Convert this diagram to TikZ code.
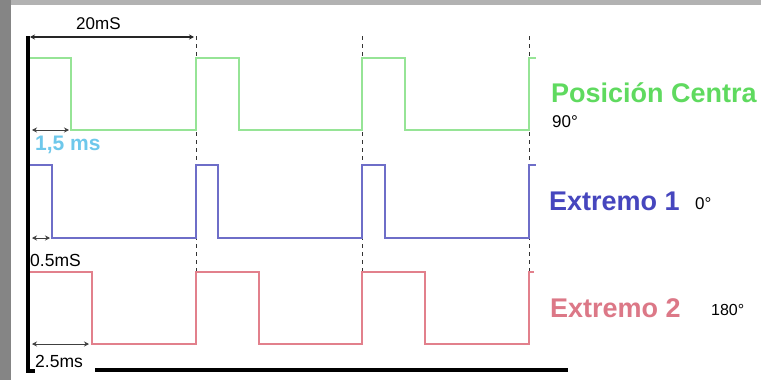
\documentclass[tikz,border=0pt]{standalone}
\usepackage{fontspec}
\setmainfont{Liberation Sans}
\usetikzlibrary{arrows.meta}

\definecolor{pgreen}{RGB}{150,228,150}
\definecolor{pblue}{RGB}{110,110,200}
\definecolor{pred}{RGB}{226,128,140}
\definecolor{tgreen}{RGB}{95,218,95}
\definecolor{tblue}{RGB}{70,70,190}
\definecolor{tred}{RGB}{220,120,135}
\definecolor{tcyan}{RGB}{110,200,235}

\begin{document}
\begin{tikzpicture}[x=1pt,y=-1pt,
  sig/.style={line width=1.8pt},
  guide/.style={black!80,line width=1pt,dash pattern=on 4pt off 4pt},
  dim/.style={black!75,line width=1pt,{Stealth[length=5pt,width=5pt]}-{Stealth[length=5pt,width=5pt]}},
  txt/.style={inner sep=0pt,anchor=base west}]
\useasboundingbox (0,0) rectangle (761,380);
\fill[white] (0,0) rectangle (761,380);
\fill[black!30] (0,0) rectangle (761,5);
\fill[black!48] (0,0) rectangle (11,380);

% guide lines, one per period
\draw[guide] (196,36) -- (196,272);
\draw[guide] (362,36) -- (362,272);
\draw[guide] (529,36) -- (529,272);

% pulses
\draw[sig,pgreen] (29,58) -- (71,58) -- (71,130) -- (196,130) -- (196,58) -- (239,58) -- (239,130)
  -- (362,130) -- (362,58) -- (405,58) -- (405,130) -- (529,130) -- (529,58) -- (536,58);
\draw[sig,pblue] (29,165) -- (52,165) -- (52,238) -- (196,238) -- (196,165) -- (218,165) -- (218,238)
  -- (362,238) -- (362,165) -- (385,165) -- (385,238) -- (529,238) -- (529,165) -- (536,165);
\draw[sig,pred] (29,272) -- (92,272) -- (92,344) -- (196,344) -- (196,272) -- (259,272) -- (259,344)
  -- (362,344) -- (362,272) -- (425,272) -- (425,344) -- (529,344) -- (529,272) -- (534,272);

% axes
\draw[line width=4pt] (27.5,36) -- (27.5,371) -- (35,371);
\draw[line width=4.5pt] (95,370) -- (568,370);

% widths
\coordinate (per0) at (30,37);
\coordinate (per1) at (194,37);
\coordinate (ctr0) at (32,130);
\coordinate (ctr1) at (69,130);
\coordinate (ext0) at (32,238);
\coordinate (ext1) at (50,238);
\coordinate (exs0) at (32,344);
\coordinate (exs1) at (89,344);
\draw[dim,black!85,line width=1.4pt] (per0) -- (per1);
\draw[dim] (ctr0) -- (ctr1);
\draw[dim] (ext0) -- (ext1);
\draw[dim] (exs0) -- (exs1);

\node[txt] (period) at (76,30) {\fontsize{17}{20}\selectfont 20mS};
\node[txt,tcyan] (wctr) at (35,150) {\fontsize{21}{24}\selectfont\bfseries 1,5 ms};
\node[txt] (wext) at (30,266) {\fontsize{17.5}{20}\selectfont 0.5mS};
\node[txt] (wexs) at (35,367) {\fontsize{17.5}{20}\selectfont 2.5ms};

% labels
\node[txt,tgreen] (lctr) at (551,102) {\fontsize{27}{30}\selectfont\bfseries Posición Centra};
\node[txt] (dctr) at (552,127) {\fontsize{17}{20}\selectfont 90°};
\node[txt,tblue] (lext) at (549,210) {\fontsize{27}{30}\selectfont\bfseries Extremo 1};
\node[txt] (dext) at (695,209) {\fontsize{17}{20}\selectfont 0°};
\node[txt,tred] (lexs) at (550,317) {\fontsize{27}{30}\selectfont\bfseries Extremo 2};
\node[txt] (dexs) at (711,315) {\fontsize{16}{20}\selectfont 180°};
\end{tikzpicture}
\end{document}
